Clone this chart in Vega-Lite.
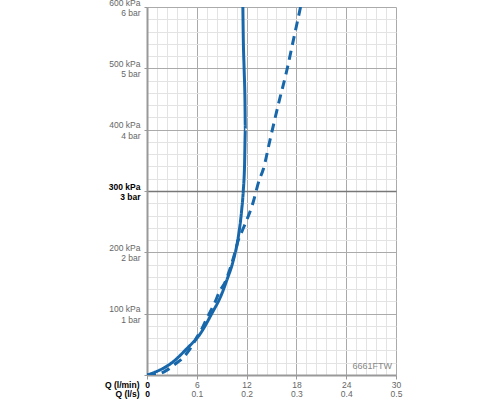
{
  "$schema": "https://vega.github.io/schema/vega-lite/v6.json",
  "autosize": "none",
  "padding": {"left": 147, "top": 7, "right": 104, "bottom": 25},
  "width": 249,
  "height": 368,
  "background": "#ffffff",
  "config": {
    "view": {"stroke": null},
    "font": "Liberation Sans"
  },
  "data": {
    "values": [
      {"s": "solid", "q": 0, "p": 0},
      {"s": "solid", "q": 1.2, "p": 6},
      {"s": "solid", "q": 2.8, "p": 18},
      {"s": "solid", "q": 4.8, "p": 43},
      {"s": "solid", "q": 6.4, "p": 67},
      {"s": "solid", "q": 7.8, "p": 100},
      {"s": "solid", "q": 9.0, "p": 132},
      {"s": "solid", "q": 9.6, "p": 154},
      {"s": "solid", "q": 10.4, "p": 187},
      {"s": "solid", "q": 11.0, "p": 225},
      {"s": "solid", "q": 11.4, "p": 268},
      {"s": "solid", "q": 11.6, "p": 300},
      {"s": "solid", "q": 11.75, "p": 340},
      {"s": "solid", "q": 11.85, "p": 400},
      {"s": "solid", "q": 11.8, "p": 450},
      {"s": "solid", "q": 11.7, "p": 500},
      {"s": "solid", "q": 11.6, "p": 550},
      {"s": "solid", "q": 11.55, "p": 600},
      {"s": "dashed", "q": 0, "p": 0},
      {"s": "dashed", "q": 1.2, "p": 1},
      {"s": "dashed", "q": 2.4, "p": 8},
      {"s": "dashed", "q": 3.4, "p": 18},
      {"s": "dashed", "q": 4.4, "p": 29},
      {"s": "dashed", "q": 5.2, "p": 43},
      {"s": "dashed", "q": 5.9, "p": 59},
      {"s": "dashed", "q": 6.6, "p": 75},
      {"s": "dashed", "q": 7.2, "p": 92},
      {"s": "dashed", "q": 8.2, "p": 119},
      {"s": "dashed", "q": 8.8, "p": 138},
      {"s": "dashed", "q": 9.4, "p": 151},
      {"s": "dashed", "q": 9.8, "p": 165},
      {"s": "dashed", "q": 10.5, "p": 195},
      {"s": "dashed", "q": 11.0, "p": 220},
      {"s": "dashed", "q": 11.5, "p": 236},
      {"s": "dashed", "q": 12.0, "p": 252},
      {"s": "dashed", "q": 12.8, "p": 282},
      {"s": "dashed", "q": 13.5, "p": 317},
      {"s": "dashed", "q": 14.0, "p": 335},
      {"s": "dashed", "q": 14.8, "p": 382},
      {"s": "dashed", "q": 15.8, "p": 440},
      {"s": "dashed", "q": 16.8, "p": 494},
      {"s": "dashed", "q": 17.7, "p": 550},
      {"s": "dashed", "q": 18.5, "p": 600},
      {"s": "label", "q": 30, "p": 0, "label": "6661FTW"}
    ]
  },
  "encoding": {
    "x": {
      "field": "q",
      "type": "quantitative",
      "scale": {"domain": [0, 30], "nice": false, "zero": false},
      "axis": {
        "values": [0, 1.2, 2.4, 3.6, 4.8, 6, 7.2, 8.4, 9.6, 10.8, 12, 13.2, 14.4, 15.6, 16.8, 18, 19.2, 20.4, 21.6, 22.8, 24, 25.2, 26.4, 27.6, 28.8, 30],
        "tickCount": 100,
        "grid": true,
        "gridColor": {"condition": {"test": "datum.value % 6 === 0", "value": "#aaaaaa"}, "value": "#e3e3e3"},
        "gridWidth": 1,
        "domain": true,
        "domainColor": "#999999",
        "domainWidth": 2,
        "ticks": true,
        "tickSize": 4,
        "tickColor": {"condition": {"test": "datum.value % 6 === 0", "value": "#999999"}, "value": "transparent"},
        "labelExpr": "datum.value % 6 === 0 ? (datum.value === 0 ? ['0', '0'] : [datum.value + '', format(datum.value / 60, '.1f')]) : ''",
        "labelFont": "Liberation Sans",
        "labelFontSize": 8.5,
        "labelLineHeight": 9.5,
        "labelBaseline": "top",
        "labelPadding": 1,
        "labelOverlap": false,
        "labelFlush": false,
        "labelBound": false,
        "labelColor": {"condition": {"test": "datum.value === 0", "value": "#000000"}, "value": "#666666"},
        "labelFontWeight": {"condition": {"test": "datum.value === 0", "value": "bold"}, "value": "normal"},
        "title": ["Q (l/min)", "Q (l/s)"],
        "titleFont": "Liberation Sans",
        "titleFontSize": 8.5,
        "titleFontWeight": "bold",
        "titleColor": "#000000",
        "titleLineHeight": 9.5,
        "titleAlign": "right",
        "titleBaseline": "top",
        "titleX": -8,
        "titleY": 5
      }
    },
    "y": {
      "field": "p",
      "type": "quantitative",
      "scale": {"domain": [0, 600], "nice": false},
      "axis": {
        "values": [0, 20, 40, 60, 80, 100, 120, 140, 160, 180, 200, 220, 240, 260, 280, 300, 320, 340, 360, 380, 400, 420, 440, 460, 480, 500, 520, 540, 560, 580, 600],
        "tickCount": 100,
        "grid": true,
        "gridColor": {"condition": [{"test": "datum.value === 300", "value": "#777777"}, {"test": "datum.value % 100 === 0", "value": "#aaaaaa"}], "value": "#e3e3e3"},
        "gridWidth": {"condition": {"test": "datum.value === 300", "value": 1.5}, "value": 1},
        "domain": true,
        "domainColor": "#999999",
        "domainWidth": 2,
        "ticks": true,
        "tickSize": 3,
        "tickColor": {"condition": {"test": "datum.value % 100 === 0", "value": "#999999"}, "value": "transparent"},
        "labelExpr": "datum.value % 100 === 0 && datum.value > 0 ? [datum.value + ' kPa', (datum.value / 100) + ' bar'] : ''",
        "labelFont": "Liberation Sans",
        "labelFontSize": 8.5,
        "labelLineHeight": 10.5,
        "labelPadding": 4,
        "labelOffset": -5,
        "labelOverlap": false,
        "labelBound": false,
        "labelFlush": false,
        "labelColor": {"condition": {"test": "datum.value === 300", "value": "#000000"}, "value": "#666666"},
        "labelFontWeight": {"condition": {"test": "datum.value === 300", "value": "bold"}, "value": "normal"},
        "title": null
      }
    }
  },
  "layer": [
    {
      "transform": [{"filter": "datum.s !== 'label'"}],
      "mark": {"type": "line", "strokeWidth": 3, "color": "#1767aa", "clip": true, "interpolate": "monotone"},
      "encoding": {
        "strokeDash": {
          "field": "s",
          "type": "nominal",
          "scale": {"domain": ["solid", "dashed"], "range": [[1, 0], [9, 6]]},
          "legend": null
        },
        "order": {"field": "p", "type": "quantitative"}
      }
    },
    {
      "transform": [{"filter": "datum.s === 'label'"}],
      "mark": {"type": "text", "align": "right", "baseline": "bottom", "dx": -4, "dy": -4, "fontSize": 9, "color": "#888888", "font": "Liberation Sans"},
      "encoding": {
        "text": {"field": "label"}
      }
    }
  ]
}
